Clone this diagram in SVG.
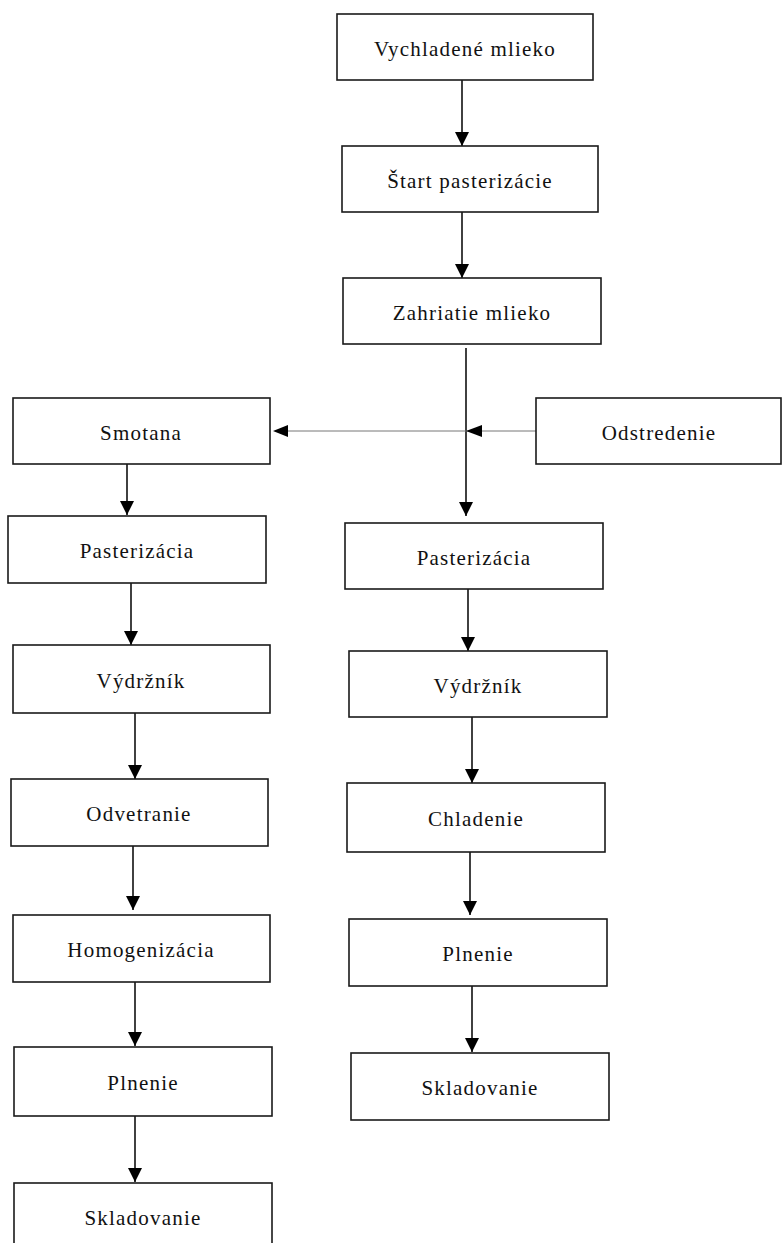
<svg xmlns="http://www.w3.org/2000/svg" width="783" height="1243" viewBox="0 0 783 1243">
  <defs>
    <style>
      .box { fill: #ffffff; stroke: #1a1a1a; stroke-width: 1.6; }
      .lbl { font-size: 21px; letter-spacing: 1.2px; fill: #111111; text-anchor: middle; }
      .flow { stroke: #111111; stroke-width: 1.6; fill: none; marker-end: url(#head); }
      .split { stroke: #777777; stroke-width: 1; fill: none; }
    </style>
    <marker id="head" markerUnits="userSpaceOnUse" markerWidth="15" markerHeight="14" refX="14" refY="7" orient="auto">
      <path d="M0,0 L14,7 L0,14 z" fill="#000000"/>
    </marker>
  </defs>

  <rect width="783" height="1243" fill="#ffffff"/>

  <!-- connectors -->
  <g id="connectors">
    <line class="flow" x1="462" y1="80" x2="462" y2="146"/>
    <line class="flow" x1="462" y1="212" x2="462" y2="278"/>
    <line class="flow" x1="466" y1="348" x2="466" y2="516"/>
    <!-- separator feed: Odstredenie to the milk line and on to Smotana -->
    <line class="split" x1="536" y1="431" x2="280" y2="431"/>
    <polygon points="466,431 482,425 482,437" fill="#000000"/>
    <polygon points="273,431 288,425 288,437" fill="#000000"/>
    <!-- cream branch -->
    <line class="flow" x1="127" y1="464" x2="127" y2="515"/>
    <line class="flow" x1="131" y1="583" x2="131" y2="645"/>
    <line class="flow" x1="135" y1="713" x2="135" y2="779"/>
    <line class="flow" x1="133" y1="846" x2="133" y2="910"/>
    <line class="flow" x1="135" y1="982" x2="135" y2="1046"/>
    <line class="flow" x1="135" y1="1116" x2="135" y2="1182"/>
    <!-- milk branch -->
    <line class="flow" x1="468" y1="589" x2="468" y2="651"/>
    <line class="flow" x1="472" y1="717" x2="472" y2="783"/>
    <line class="flow" x1="470" y1="852" x2="470" y2="915"/>
    <line class="flow" x1="472" y1="986" x2="472" y2="1052"/>
  </g>

  <g font-family="'Liberation Serif', 'DejaVu Serif', serif">
  <g id="n-vychladene">
    <rect class="box" x="337" y="14" width="256" height="66"/>
    <text class="lbl" x="465" y="56">Vychladené mlieko</text>
  </g>
  <g id="n-start">
    <rect class="box" x="342" y="146" width="256" height="66"/>
    <text class="lbl" x="470" y="188">Štart pasterizácie</text>
  </g>
  <g id="n-zahriatie">
    <rect class="box" x="343" y="278" width="258" height="66"/>
    <text class="lbl" x="472" y="320">Zahriatie mlieko</text>
  </g>
  <g id="n-odstredenie">
    <rect class="box" x="536" y="398" width="245" height="66"/>
    <text class="lbl" x="659" y="440">Odstredenie</text>
  </g>
  <g id="n-smotana">
    <rect class="box" x="13" y="398" width="257" height="66"/>
    <text class="lbl" x="141" y="440">Smotana</text>
  </g>

  <g id="n-pasterizacia-l">
    <rect class="box" x="8" y="516" width="258" height="67"/>
    <text class="lbl" x="137" y="558">Pasterizácia</text>
  </g>
  <g id="n-vydrznik-l">
    <rect class="box" x="13" y="645" width="257" height="68"/>
    <text class="lbl" x="141" y="688">Výdržník</text>
  </g>
  <g id="n-odvetranie">
    <rect class="box" x="11" y="779" width="257" height="67"/>
    <text class="lbl" x="139" y="821">Odvetranie</text>
  </g>
  <g id="n-homogenizacia">
    <rect class="box" x="13" y="915" width="257" height="67"/>
    <text class="lbl" x="141" y="957">Homogenizácia</text>
  </g>
  <g id="n-plnenie-l">
    <rect class="box" x="14" y="1047" width="258" height="69"/>
    <text class="lbl" x="143" y="1090">Plnenie</text>
  </g>
  <g id="n-skladovanie-l">
    <rect class="box" x="14" y="1183" width="258" height="66"/>
    <text class="lbl" x="143" y="1225">Skladovanie</text>
  </g>

  <g id="n-pasterizacia-r">
    <rect class="box" x="345" y="523" width="258" height="66"/>
    <text class="lbl" x="474" y="565">Pasterizácia</text>
  </g>
  <g id="n-vydrznik-r">
    <rect class="box" x="349" y="651" width="258" height="66"/>
    <text class="lbl" x="478" y="693">Výdržník</text>
  </g>
  <g id="n-chladenie">
    <rect class="box" x="347" y="783" width="258" height="69"/>
    <text class="lbl" x="476" y="826">Chladenie</text>
  </g>
  <g id="n-plnenie-r">
    <rect class="box" x="349" y="919" width="258" height="67"/>
    <text class="lbl" x="478" y="961">Plnenie</text>
  </g>
  <g id="n-skladovanie-r">
    <rect class="box" x="351" y="1053" width="258" height="67"/>
    <text class="lbl" x="480" y="1095">Skladovanie</text>
  </g>
  </g>
</svg>
